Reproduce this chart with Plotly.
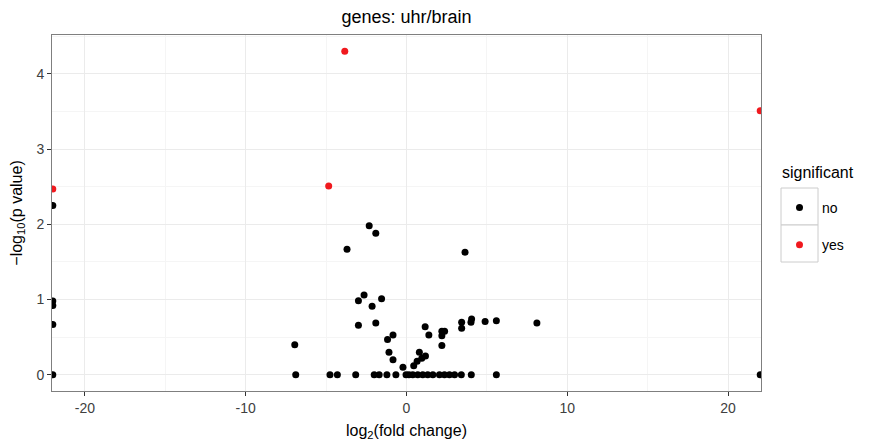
import plotly.graph_objects as go

# log2 fold change / -log10 p value
no_x = [-22, -22, -22, -22, -22, 22,
        -2.32, -1.91, -3.70, 3.64, -2.64, -2.99, -1.55, -2.14, -2.99, -1.91,
        -6.95, -1.18, -0.84, -1.09, -0.84, -0.22, 0.80, 1.18, 0.66, 0.45, 0.95,
        1.16, 1.39, 2.20, 2.37, 2.20, 2.20, 3.43, 3.43, 4.05, 4.01, 4.89, 5.59, 8.11,
        -6.89, -4.76, -4.30, -3.16, -2.01, -1.70, -1.22, -0.66, -0.03, 0.15, 0.39,
        0.70, 1.01, 1.32, 1.64, 2.05, 2.36, 2.67, 2.99, 3.41, 4.03, 5.59]
no_y = [2.25, 0.98, 0.92, 0.67, 0.0, 0.0,
        1.98, 1.88, 1.67, 1.63, 1.06, 0.985, 1.01, 0.91, 0.66, 0.69,
        0.40, 0.47, 0.53, 0.30, 0.20, 0.10, 0.30, 0.25, 0.18, 0.12, 0.22,
        0.64, 0.53, 0.58, 0.58, 0.52, 0.39, 0.70, 0.62, 0.74, 0.70, 0.71, 0.72, 0.69,
        0, 0, 0, 0, 0, 0, 0, 0, 0, 0, 0,
        0, 0, 0, 0, 0, 0, 0, 0, 0, 0, 0]
yes_x = [-3.84, -4.84, 22, -22]
yes_y = [4.30, 2.51, 3.51, 2.47]

x_ticks = [-20, -10, 0, 10, 20]
x_labels = ["-20", "-10", "0", "10", "20"]
y_ticks = [0, 1, 2, 3, 4]

font = "Liberation Sans, Arial, sans-serif"
# the page body adds an 8px margin, so the figure is 8px smaller than the window
W, H = 866, 433
L, R, T, B = 44, 113, 27, 50
pw, ph = W - L - R, H - T - B


def px_x(x):
    return (x - L) / pw


def px_y(y):
    return (H - B - y) / ph


fig = go.Figure()
fig.add_trace(go.Scatter(x=no_x, y=no_y, mode="markers", name="no", legendgroup="no",
                         marker=dict(color="black", size=7)))
fig.add_trace(go.Scatter(x=yes_x, y=yes_y, mode="markers", name="yes", legendgroup="yes",
                         marker=dict(color="#f0191e", size=7)))

axis_common = dict(showline=True, linecolor="#7f7f7f", linewidth=1, mirror=True,
                   ticks="outside", ticklen=4, tickcolor="#333333",
                   tickfont=dict(size=14, color="#404040"),
                   gridcolor="#ebebeb", gridwidth=1, zeroline=False, automargin=False)

fig.update_xaxes(range=[-22.05, 22.05], tickvals=x_ticks, ticktext=x_labels,
                 title=dict(text="log<sub>2</sub>(fold change)", font=dict(size=16, color="black")),
                 minor=dict(tickvals=[-15, -5, 5, 15], ticks="", showgrid=True,
                            gridcolor="#f5f5f5", gridwidth=1),
                 **axis_common)
fig.update_yaxes(range=[-0.215, 4.515], tickvals=y_ticks,
                 title=dict(text="−log<sub>10</sub>(p value)", font=dict(size=16, color="black")),
                 minor=dict(tickvals=[0.5, 1.5, 2.5, 3.5, 4.5], ticks="", showgrid=True,
                            gridcolor="#f5f5f5", gridwidth=1),
                 **axis_common)

# boxes around the legend keys, like ggplot's legend.key
shapes = []
for i in range(2):
    top = 180 + 37 * i
    shapes.append(dict(type="rect", xref="paper", yref="paper",
                       x0=px_x(773), x1=px_x(810), y0=px_y(top), y1=px_y(top + 37),
                       line=dict(color="#cccccc", width=1), fillcolor="white", layer="below"))

fig.update_layout(
    width=W, height=H,
    margin=dict(l=L, r=R, t=T, b=B),
    paper_bgcolor="white", plot_bgcolor="white",
    font=dict(family=font, color="black"),
    title=dict(text="genes: uhr/brain", x=0.5, xref="paper", xanchor="center",
               y=1 - 9 / H, yanchor="middle", font=dict(size=18)),
    legend=dict(x=px_x(769), xanchor="left", y=px_y(184), yanchor="top",
                font=dict(size=14), tracegroupgap=16, itemwidth=35,
                bgcolor="rgba(0,0,0,0)"),
    annotations=[dict(text="significant", xref="paper", yref="paper",
                      x=px_x(772), y=px_y(165), xanchor="left", yanchor="middle",
                      showarrow=False, font=dict(size=16))],
    shapes=shapes,
)

fig.write_html("out.html")
